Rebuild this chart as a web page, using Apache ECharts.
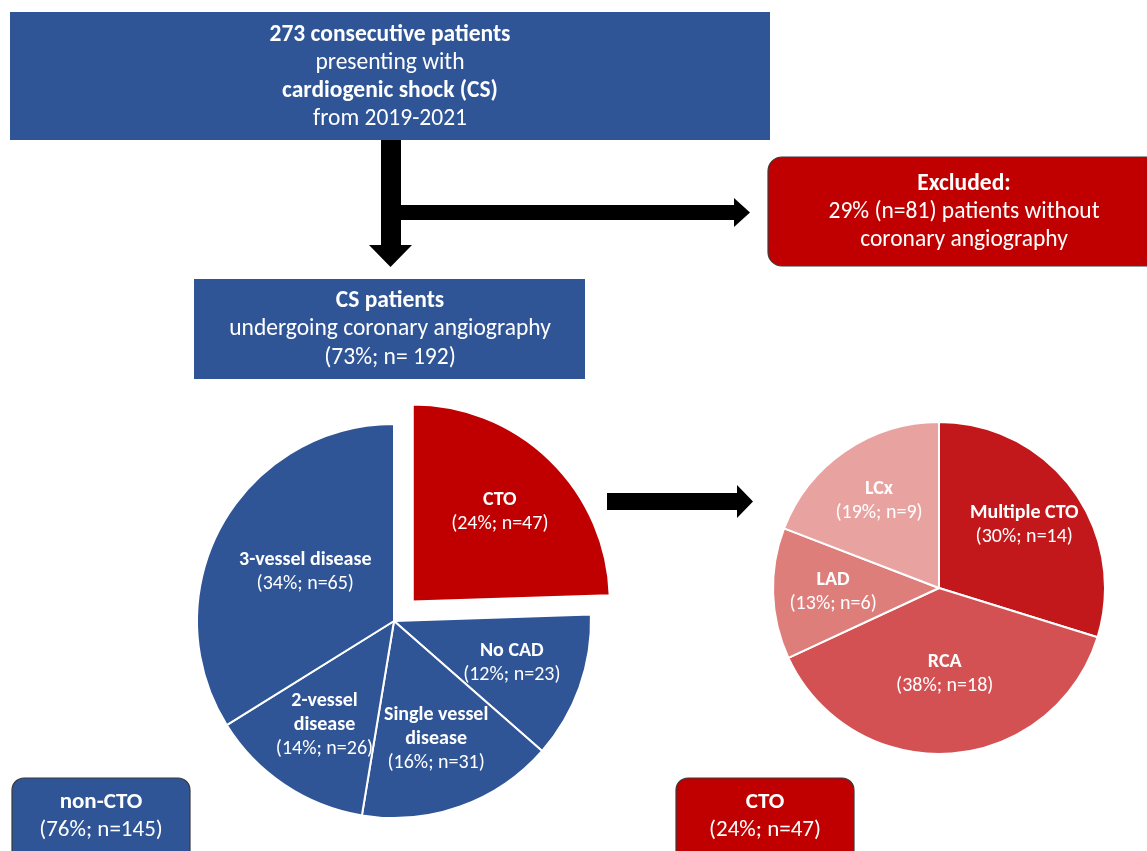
<!DOCTYPE html>
<html><head><meta charset="utf-8">
<script src="https://cdn.jsdelivr.net/npm/echarts/dist/echarts.min.js"></script>
<style>html,body{margin:0;padding:0;background:#fff}#c{width:1147px;height:851px}</style>
</head><body><div id="c"></div>
<script>
const leftNames = ['CTO', 'No CAD', 'Single vessel\ndisease', '2-vessel\ndisease', '3-vessel disease'];
const leftCounts = [47, 23, 31, 26, 65];
const leftColors = ['#C00000', '#2F5597', '#2F5597', '#2F5597', '#2F5597'];
const leftInnerLabel = ['3-vessel disease'];

const rightNames = ['Multiple CTO', 'RCA', 'LAD', 'LCx'];
const rightCounts = [14, 18, 6, 9];
const rightColors = ['#C3181B', '#D45153', '#DE7E7B', '#E8A3A1'];
const rightInnerLabel = ['RCA'];

const topLines = [['273 consecutive patients', true], ['presenting with', false], ['cardiogenic shock (CS)', true], ['from 2019-2021', false]];
const excludedLines = [['Excluded:', true], ['29% (n=81) patients without', false], ['coronary angiography', false]];
const csLines = [['CS patients', true], ['undergoing coronary angiography', false], ['(73%; n= 192)', false]];
const nonCtoLines = [['non-CTO', true], ['(76%; n=145)', false]];
const ctoLines = [['CTO', true], ['(24%; n=47)', false]];

const FONT = 'Carlito, Lato, "Open Sans", sans-serif';
const BLUE = '#2F5597', RED = '#C00000';

function labelFmt(p) {
  return p.name.split('\n').map(s => '{b|' + s + '}').join('\n') + '\n{n|(' + p.percent + '%; n=' + p.value + ')}';
}
const rich = {
  b: { fontFamily: FONT, fontWeight: 'bold', fontSize: 20, color: '#fff', lineHeight: 24, align: 'center' },
  n: { fontFamily: FONT, fontSize: 20, color: '#fff', lineHeight: 24, align: 'center' }
};

function mainData(names, counts, colors, inner) {
  return names.map((n, i) => ({
    name: n, value: counts[i], selected: n === 'CTO' && names === leftNames,
    itemStyle: { color: colors[i] },
    label: { show: inner.indexOf(n) >= 0 }
  }));
}
function overlayData(names, counts, inner) {
  return names.map((n, i) => ({
    name: n, value: counts[i], selected: n === 'CTO' && names === leftNames,
    itemStyle: { color: 'rgba(0,0,0,0)', borderWidth: 0 },
    label: { show: inner.indexOf(n) < 0 }
  }));
}
function pieBase(center, radius) {
  return {
    type: 'pie', center: center, radius: radius, startAngle: 90, clockwise: true,
    percentPrecision: 0, selectedMode: 'single', selectedOffset: 27, avoidLabelOverlap: false,
    labelLine: { show: false }, emphasis: { disabled: true },
    label: { position: 'inside', formatter: labelFmt, rich: rich }
  };
}

function textLines(lines, cx, y0, dy, size) {
  return lines.map((l, i) => ({
    type: 'text', silent: true, z: 10,
    style: { text: l[0], x: cx, y: y0 + i * dy, align: 'center', verticalAlign: 'middle',
      fill: '#fff', font: (l[1] ? 'bold ' : '') + size + 'px ' + FONT }
  }));
}
function box(x, y, w, h, fill, r, stroke) {
  return { type: 'rect', silent: true, z: 5, shape: { x: x, y: y, width: w, height: h, r: r || 0 },
    style: { fill: fill, stroke: stroke || 'none', lineWidth: stroke ? 1.2 : 0 } };
}
function poly(pts) {
  return { type: 'polygon', silent: true, z: 4, shape: { points: pts }, style: { fill: '#000' } };
}

const graphics = [
  box(10, 12, 760, 128, BLUE),
  box(768, 157, 400, 109, RED, 14, '#3a3a3a'),
  box(194, 279, 391, 100, BLUE),
  box(12, 778, 178, 90, BLUE, 12, '#3a3a3a'),
  box(676, 778, 178, 90, RED, 12, '#3a3a3a'),
  poly([[381, 140], [401, 140], [401, 245], [412, 245], [390.5, 267], [369, 245], [381, 245]]),
  poly([[401, 205], [734, 205], [734, 198], [750, 212.5], [734, 227], [734, 220], [401, 220]]),
  poly([[607, 493], [737, 493], [737, 485], [753, 501.5], [737, 518], [737, 510], [607, 510]])
].concat(
  textLines(topLines, 390, 35, 28, 23.5),
  textLines(excludedLines, 964, 184, 28, 23.5),
  textLines(csLines, 390, 301, 28.5, 23.5),
  textLines(nonCtoLines, 101, 802, 28, 23),
  textLines(ctoLines, 765, 802, 28, 23)
);

const L = 197, R = 166;
const series = [
  Object.assign(pieBase([394, 621], L), {
    itemStyle: { borderColor: '#fff', borderWidth: 2 },
    data: mainData(leftNames, leftCounts, leftColors, leftInnerLabel)
  }),
  Object.assign(pieBase([394, 621], [L * 0.24, L]), {
    silent: true, itemStyle: { borderWidth: 0 },
    data: overlayData(leftNames, leftCounts, leftInnerLabel)
  }),
  Object.assign(pieBase([939, 588], R), {
    selectedMode: false,
    itemStyle: { borderColor: '#fff', borderWidth: 2 },
    data: mainData(rightNames, rightCounts, rightColors, rightInnerLabel)
  }),
  Object.assign(pieBase([939, 588], [R * 0.24, R]), {
    selectedMode: false, silent: true, itemStyle: { borderWidth: 0 },
    data: overlayData(rightNames, rightCounts, rightInnerLabel)
  })
];

const chart = echarts.init(document.getElementById('c'), null, { renderer: 'canvas' });
chart.setOption({ animation: false, backgroundColor: '#fff', graphic: graphics, series: series });
</script></body></html>
